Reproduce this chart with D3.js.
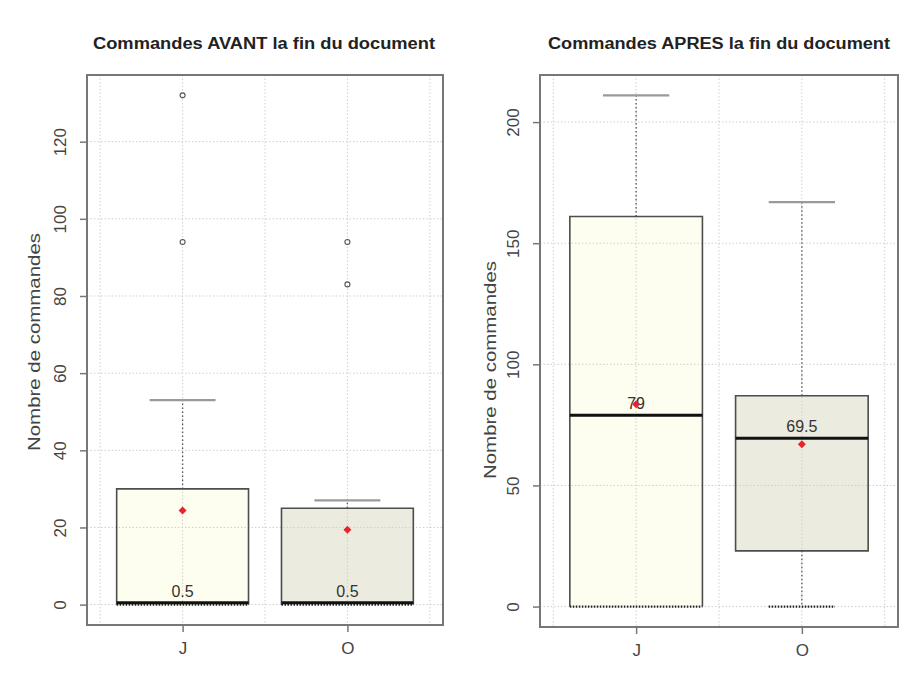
<!DOCTYPE html>
<html><head><meta charset="utf-8">
<script src="https://cdn.jsdelivr.net/npm/d3@7"></script>
<style>body{margin:0;background:#fff}svg{display:block}text{font-family:"Liberation Sans",Arial,sans-serif}</style>
</head><body>
<svg id="c" width="904" height="691"></svg>
<script>
const groups = ["J", "O"];
const boxFills = ["#fdfdf0", "#ebebe0"];

const avantTitle = "Commandes AVANT la fin du document";
const avantQ1 = [0, 0];
const avantMedian = [0.5, 0.5];
const avantQ3 = [30, 25];
const avantLow = [0, 0];
const avantHigh = [53, 27];
const avantMean = [24.4, 19.4];
const avantOutliers = [[94, 132], [83, 94]];
const avantTicks = [0, 20, 40, 60, 80, 100, 120];

const apresTitle = "Commandes APRES la fin du document";
const apresQ1 = [0, 23];
const apresMedian = [79, 69.5];
const apresQ3 = [161, 87];
const apresLow = [0, 0];
const apresHigh = [211, 167];
const apresMean = [83.5, 67];
const apresOutliers = [[], []];
const apresTicks = [0, 50, 100, 150, 200];

const yLabel = "Nombre de commandes";

const svg = d3.select("#c");

function panel(cfg) {
  const {left, right, top, bottom, title, q1, med, q3, low, high, mean, outl, ticks, yMax} = cfg;
  const g = svg.append("g");
  const pad = 0.04 * yMax;
  const y = d3.scaleLinear().domain([-pad, yMax + pad]).range([bottom, top]);
  const x = d3.scaleLinear().domain([0.42, 2.58]).range([left, right]);
  const ux = x(1) - x(0);
  const bw = 0.8 * ux, sw = 0.4 * ux;

  groups.forEach((k, i) => {
    const cx = x(i + 1);
    g.append("rect").attr("x", cx - bw / 2).attr("y", y(q3[i]))
      .attr("width", bw).attr("height", y(q1[i]) - y(q3[i]))
      .attr("fill", boxFills[i]);
  });

  const gridG = g.append("g").attr("stroke", "#cfcfcf").attr("stroke-width", 1).attr("stroke-dasharray", "1.5,2");
  ticks.forEach(t => gridG.append("line").attr("x1", left).attr("x2", right).attr("y1", y(t)).attr("y2", y(t)));
  [0.5, 1, 1.5, 2, 2.5].forEach(v => gridG.append("line").attr("x1", x(v)).attr("x2", x(v)).attr("y1", top).attr("y2", bottom));

  groups.forEach((k, i) => {
    const cx = x(i + 1);
    g.append("line").attr("x1", cx).attr("x2", cx).attr("y1", y(q3[i])).attr("y2", y(high[i]))
      .attr("stroke", "#555").attr("stroke-width", 1.3).attr("stroke-dasharray", "1.5,2.5");
    if (q1[i] > low[i]) {
      g.append("line").attr("x1", cx).attr("x2", cx).attr("y1", y(q1[i])).attr("y2", y(low[i]))
        .attr("stroke", "#555").attr("stroke-width", 1.3).attr("stroke-dasharray", "1.5,2.5");
    }
    g.append("line").attr("x1", cx - sw / 2).attr("x2", cx + sw / 2).attr("y1", y(high[i])).attr("y2", y(high[i]))
      .attr("stroke", "#9a9a9a").attr("stroke-width", 2.2);
    const xl = cx - bw / 2, xr = cx + bw / 2, yt = y(q3[i]), yb = y(q1[i]);
    const p = d3.path();
    p.moveTo(xl, yb); p.lineTo(xl, yt); p.lineTo(xr, yt); p.lineTo(xr, yb);
    if (q1[i] > low[i]) p.closePath();
    g.append("path").attr("d", p.toString()).attr("fill", "none").attr("stroke", "#4d4d4d").attr("stroke-width", 1.6);
    const lw = q1[i] > low[i] ? sw : bw;
    g.append("line").attr("x1", cx - lw / 2).attr("x2", cx + lw / 2).attr("y1", y(low[i])).attr("y2", y(low[i]))
      .attr("stroke", "#222").attr("stroke-width", 2.2).attr("stroke-dasharray", "1.5,1.5");
    g.append("line").attr("x1", xl).attr("x2", xr).attr("y1", y(med[i])).attr("y2", y(med[i]))
      .attr("stroke", "#111").attr("stroke-width", 3);
    g.append("text").attr("x", cx).attr("y", y(med[i]) - 6).attr("text-anchor", "middle")
      .attr("font-size", 16).attr("fill", "#333").text(d3.format("")(med[i]));
    outl[i].forEach(v => g.append("circle").attr("cx", cx).attr("cy", y(v)).attr("r", 2.5)
      .attr("fill", "none").attr("stroke", "#555").attr("stroke-width", 1.1));
    g.append("path").attr("transform", `translate(${cx},${y(mean[i])})`)
      .attr("d", d3.symbol().type(d3.symbolDiamond2).size(40)())
      .attr("fill", "#e8232a");
  });

  g.append("rect").attr("x", left).attr("y", top).attr("width", right - left).attr("height", bottom - top)
    .attr("fill", "none").attr("stroke", "#777").attr("stroke-width", 2);

  const ya = g.append("g").attr("transform", `translate(${left},0)`)
    .call(d3.axisLeft(y).tickValues(ticks).tickSize(7).tickSizeOuter(0).tickFormat(d3.format("d")));
  ya.select(".domain").remove();
  ya.selectAll(".tick line").attr("stroke", "#777").attr("stroke-width", 1.5);
  ya.selectAll(".tick text").attr("font-size", 17).attr("fill", "#444").attr("font-family", null)
    .attr("text-anchor", "middle")
    .attr("transform", "translate(-21,0) rotate(-90)").attr("x", 0).attr("y", 0).attr("dy", "0");

  const xa = g.append("g").attr("transform", `translate(0,${bottom})`)
    .call(d3.axisBottom(x).tickValues([1, 2]).tickSize(7).tickSizeOuter(0).tickFormat((d) => groups[d - 1]));
  xa.select(".domain").remove();
  xa.selectAll(".tick line").attr("stroke", "#777").attr("stroke-width", 1.5);
  xa.selectAll(".tick text").attr("font-size", 17).attr("fill", "#444").attr("font-family", null).attr("dy", null).attr("y", 29);

  g.append("text").attr("transform", `translate(${cfg.labelX},${cfg.labelY}) rotate(-90)`)
    .attr("text-anchor", "middle").attr("font-size", 17).attr("fill", "#444")
    .attr("textLength", 218).attr("lengthAdjust", "spacingAndGlyphs").text(yLabel);

  g.append("text").attr("x", cfg.titleX).attr("y", 49).attr("text-anchor", "middle")
    .attr("font-size", 16).attr("font-weight", "bold").attr("fill", "#222")
    .attr("textLength", cfg.titleW).attr("lengthAdjust", "spacingAndGlyphs").text(title);
}

panel({left: 87, right: 443, top: 75, bottom: 625, title: avantTitle, q1: avantQ1, med: avantMedian, q3: avantQ3,
  low: avantLow, high: avantHigh, mean: avantMean, outl: avantOutliers, ticks: avantTicks, yMax: 132,
  labelX: 40, labelY: 342, titleX: 264, titleW: 342});
panel({left: 540, right: 898, top: 75, bottom: 627, title: apresTitle, q1: apresQ1, med: apresMedian, q3: apresQ3,
  low: apresLow, high: apresHigh, mean: apresMean, outl: apresOutliers, ticks: apresTicks, yMax: 211,
  labelX: 496, labelY: 370, titleX: 719, titleW: 342});
</script>
</body></html>
